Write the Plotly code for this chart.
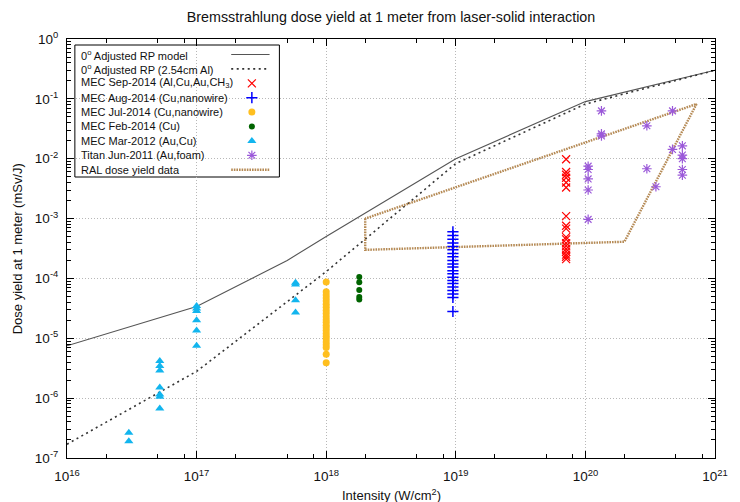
import plotly.graph_objects as go

# ---------------- data ----------------
model_I = [1e16, 1e17, 5e17, 1e18, 1e19, 1e20, 1e21]
model_D = [7.5e-6, 3.4e-5, 2.0e-4, 5.0e-4, 1.0e-2, 9.0e-2, 0.3]

al_I = [1e16, 1e17, 1e18, 1e19, 1e20, 1e21]
al_D = [1.7e-7, 2.8e-6, 1.3e-4, 8.3e-3, 8.2e-2, 0.3]

sep14_I = 7.1e19
sep14_D = [9.8e-3, 6.0e-3, 5.4e-3, 4.8e-3, 4.0e-3, 3.3e-3, 1.1e-3, 7.6e-4, 6.8e-4,
           4.9e-4, 4.5e-4, 3.9e-4, 3.5e-4, 3.1e-4, 2.8e-4, 2.5e-4, 2.3e-4, 2.1e-4]

aug14_I = 9.5e18
aug14_D = [6.0e-4, 5.2e-4, 4.5e-4, 3.9e-4, 3.4e-4, 3.0e-4, 2.6e-4, 2.3e-4, 2.0e-4,
           1.75e-4, 1.55e-4, 1.35e-4, 1.2e-4, 1.05e-4, 9.2e-5, 8.2e-5, 7.2e-5,
           6.3e-5, 5.5e-5, 4.8e-5, 2.8e-5]

jul14_I = 1e18
jul14_D = [8.7e-5, 6.0e-5, 5.3e-5, 4.7e-5, 4.2e-5, 3.7e-5, 3.3e-5, 2.9e-5, 2.6e-5,
           2.3e-5, 2.05e-5, 1.85e-5, 1.65e-5, 1.5e-5, 1.35e-5, 1.2e-5, 1.08e-5,
           9.7e-6, 8.7e-6, 7.8e-6, 7.0e-6, 5.4e-6, 3.9e-6]

feb14_I = 1.8e18
feb14_D = [1.06e-4, 8.6e-5, 6.4e-5, 4.9e-5, 4.45e-5]

mar12_I = [3e16, 3e16,
           5.2e16, 5.2e16, 5.2e16, 5.2e16, 5.2e16, 5.2e16, 5.2e16,
           1e17, 1e17, 1e17, 1e17, 1e17, 1e17,
           5.8e17, 5.8e17, 5.8e17, 5.8e17]
mar12_D = [2.65e-7, 1.9e-7,
           4.17e-6, 3.45e-6, 2.9e-6, 1.5e-6, 1.15e-6, 1.05e-6, 6.7e-7,
           3.47e-5, 3.15e-5, 2.85e-5, 2.0e-5, 1.35e-5, 7.5e-6,
           8.5e-5, 7.9e-5, 4.3e-5, 2.7e-5]

titan_I = [1.33e20, 1.33e20, 1.33e20, 1.05e20, 1.05e20, 1.05e20, 1.05e20, 1.05e20,
           2.98e20, 2.98e20, 3.5e20, 4.7e20, 4.7e20,
           5.6e20, 5.6e20, 5.6e20, 5.6e20, 5.6e20]
titan_D = [6.3e-2, 2.6e-2, 2.4e-2, 7.5e-3, 6.6e-3, 4.6e-3, 3.0e-3, 9.7e-4,
           3.55e-2, 6.8e-3, 3.4e-3, 6.3e-2, 1.43e-2,
           1.64e-2, 1.15e-2, 1.0e-2, 6.6e-3, 5.3e-3]

ral_I = [2e18, 2e18, 2e20, 7.2e20, 2e18]
ral_D = [1e-3, 3e-4, 4.1e-4, 8.2e-2, 1e-3]

x_tick_vals = [1e16, 1e17, 1e18, 1e19, 1e20, 1e21]
x_tick_text = ["10<sup>16</sup>", "10<sup>17</sup>", "10<sup>18</sup>",
               "10<sup>19</sup>", "10<sup>20</sup>", "10<sup>21</sup>"]
y_tick_vals = [1e0, 1e-1, 1e-2, 1e-3, 1e-4, 1e-5, 1e-6, 1e-7]
y_tick_text = ["10<sup>0</sup>", "10<sup>-1</sup>", "10<sup>-2</sup>", "10<sup>-3</sup>",
               "10<sup>-4</sup>", "10<sup>-5</sup>", "10<sup>-6</sup>", "10<sup>-7</sup>"]

legend_labels = [
    "0<sup>o</sup> Adjusted RP model",
    "0<sup>o</sup> Adjusted RP (2.54cm Al)",
    "MEC Sep-2014 (Al,Cu,Au,CH<sub>3</sub>)",
    "MEC Aug-2014 (Cu,nanowire)",
    "MEC Jul-2014 (Cu,nanowire)",
    "MEC Feb-2014 (Cu)",
    "MEC Mar-2012 (Au,Cu)",
    "Titan Jun-2011 (Au,foam)",
    "RAL dose yield data",
]

title_text = "Bremsstrahlung dose yield at 1 meter from laser-solid interaction"
x_title = "Intensity (W/cm<sup>2</sup>)"
y_title = "Dose yield at 1 meter (mSv/J)"

# ---------------- styles ----------------
FONT = "Liberation Sans, Arial, Helvetica, sans-serif"
W, H = 740, 502
L, R, T, B = 67, 14, 39, 44
PW, PH = W - L - R, H - T - B
X_RANGE = [16, 21]
Y_RANGE = [-7, 0]

C_MODEL = "#555555"
C_AL = "#333333"
C_SEP = "#ff0000"
C_AUG = "#0000ff"
C_JUL = "#ffbf1f"
C_FEB = "#006400"
C_MAR = "#12b5ee"
C_TIT = "#9b59d9"
C_RAL = "#b58a55"

LINE_MODEL = dict(color=C_MODEL, width=1.1)
LINE_AL = dict(color=C_AL, width=1.6, dash="2px,3.5px")
LINE_RAL = dict(color=C_RAL, width=2.4, dash="1.6px,1px")
MK_SEP = dict(symbol="x-thin-open", size=8, color=C_SEP, line=dict(color=C_SEP, width=1.2))
MK_AUG = dict(symbol="cross-thin-open", size=8, color=C_AUG, line=dict(color=C_AUG, width=1.5))
MK_JUL = dict(symbol="circle", size=7, color=C_JUL)
MK_FEB = dict(symbol="circle", size=6, color=C_FEB)
MK_MAR = dict(symbol="triangle-up", size=8, color=C_MAR)
MK_TIT = dict(symbol="asterisk-open", size=8, color=C_TIT, line=dict(color=C_TIT, width=1.2))


def px(X):
    return (X - L) / PW


def py(Y):
    return (H - B - Y) / PH


fig = go.Figure()

fig.add_trace(go.Scatter(x=model_I, y=model_D, mode="lines", name=legend_labels[0],
                         line=LINE_MODEL, showlegend=False))
fig.add_trace(go.Scatter(x=al_I, y=al_D, mode="lines", name=legend_labels[1],
                         line=LINE_AL, showlegend=False))
fig.add_trace(go.Scatter(x=ral_I, y=ral_D, mode="lines", name=legend_labels[8],
                         line=LINE_RAL, showlegend=False))
fig.add_trace(go.Scatter(x=[sep14_I] * len(sep14_D), y=sep14_D, mode="markers",
                         name=legend_labels[2], showlegend=False, marker=MK_SEP))
fig.add_trace(go.Scatter(x=[aug14_I] * len(aug14_D), y=aug14_D, mode="markers",
                         name=legend_labels[3], showlegend=False, marker=MK_AUG))
fig.add_trace(go.Scatter(x=[jul14_I] * len(jul14_D), y=jul14_D, mode="markers",
                         name=legend_labels[4], showlegend=False, marker=MK_JUL))
fig.add_trace(go.Scatter(x=[feb14_I] * len(feb14_D), y=feb14_D, mode="markers",
                         name=legend_labels[5], showlegend=False, marker=MK_FEB))
fig.add_trace(go.Scatter(x=mar12_I, y=mar12_D, mode="markers",
                         name=legend_labels[6], showlegend=False, marker=MK_MAR))
# Titan data lives on the overlay log axes (identical ranges) which carry the minor ticks
fig.add_trace(go.Scatter(x=titan_I, y=titan_D, mode="markers", xaxis="x3", yaxis="y3",
                         name=legend_labels[7], showlegend=False, marker=MK_TIT))

# ---------------- custom legend (text left, sample right) ----------------
row0, step = 54.5, 14.4
rows = [row0 + i * step for i in range(len(legend_labels))]
sx0, sx1, sxm = 234, 273, 255
legend_styles = [
    dict(mode="lines", line=LINE_MODEL),
    dict(mode="lines", line=LINE_AL),
    dict(mode="markers", marker=MK_SEP),
    dict(mode="markers", marker=MK_AUG),
    dict(mode="markers", marker=MK_JUL),
    dict(mode="markers", marker=MK_FEB),
    dict(mode="markers", marker=MK_MAR),
    dict(mode="markers", marker=MK_TIT),
    dict(mode="lines", line=LINE_RAL),
]
for yrow, st in zip(rows, legend_styles):
    if st["mode"] == "lines":
        xs, ys = [px(sx0), px(sx1)], [py(yrow), py(yrow)]
    else:
        xs, ys = [px(sxm)], [py(yrow)]
    fig.add_trace(go.Scatter(x=xs, y=ys, xaxis="x2", yaxis="y2", showlegend=False,
                             hoverinfo="skip", **st))

annotations = []
for lab, yrow in zip(legend_labels, rows):
    annotations.append(dict(text=lab, xref="paper", yref="paper", x=px(79), y=py(yrow),
                            xanchor="left", yanchor="middle", showarrow=False,
                            font=dict(family=FONT, size=11, color="#111111")))
annotations.append(dict(text=x_title, xref="paper", yref="paper", x=0.5, y=py(495),
                        xanchor="center", yanchor="middle", showarrow=False,
                        font=dict(family=FONT, size=13, color="#111111")))
annotations.append(dict(text=y_title, xref="paper", yref="paper", x=px(17), y=0.5,
                        xanchor="center", yanchor="middle", showarrow=False, textangle=-90,
                        font=dict(family=FONT, size=13, color="#111111")))

shapes = [dict(type="rect", xref="paper", yref="paper", x0=px(75), x1=px(283),
               y0=py(177), y1=py(45), line=dict(color="black", width=1),
               fillcolor="white", layer="between")]

x_minor = [m * 10.0 ** k for k in range(16, 21) for m in (2, 5, 8)]
y_minor = [m * 10.0 ** k for k in range(-7, 0) for m in range(2, 10)]

axis_common = dict(type="log", showline=True, linecolor="black", linewidth=1,
                   mirror="allticks", ticks="inside", ticklen=7, tickwidth=1,
                   tickcolor="black", showgrid=True, gridcolor="#b8b8b8",
                   griddash="1px,2px", gridwidth=1, zeroline=False,
                   tickfont=dict(family=FONT, size=13.5, color="#111111"))

minor_common = dict(type="log", showline=False, mirror="allticks", ticks="inside",
                    ticklen=4, tickwidth=1, tickcolor="black", showgrid=False,
                    zeroline=False, showticklabels=False, tickmode="array")

fig.update_layout(
    width=W, height=H,
    margin=dict(l=L, r=R, t=T, b=B),
    paper_bgcolor="white", plot_bgcolor="white",
    font=dict(family=FONT, color="#111111"),
    title=dict(text=title_text, x=0.5, xref="paper", xanchor="center",
               y=1 - 17 / H, yref="container", yanchor="middle",
               font=dict(family=FONT, size=14.3, color="#111111")),
    xaxis=dict(range=X_RANGE, tickmode="array", tickvals=x_tick_vals,
               ticktext=x_tick_text, ticklabelstandoff=6, **axis_common),
    yaxis=dict(range=Y_RANGE, tickmode="array", tickvals=y_tick_vals,
               ticktext=y_tick_text, ticklabelstandoff=5, **axis_common),
    xaxis2=dict(overlaying="x", anchor="y2", range=[0, 1], visible=False,
                fixedrange=True),
    yaxis2=dict(overlaying="y", anchor="x2", range=[0, 1], visible=False,
                fixedrange=True),
    xaxis3=dict(overlaying="x", anchor="y3", range=X_RANGE, tickvals=x_minor,
                matches="x", **minor_common),
    yaxis3=dict(overlaying="y", anchor="x3", range=Y_RANGE, tickvals=y_minor,
                matches="y", **minor_common),
    annotations=annotations,
    shapes=shapes,
    showlegend=False,
)

fig.write_html("out.html")
